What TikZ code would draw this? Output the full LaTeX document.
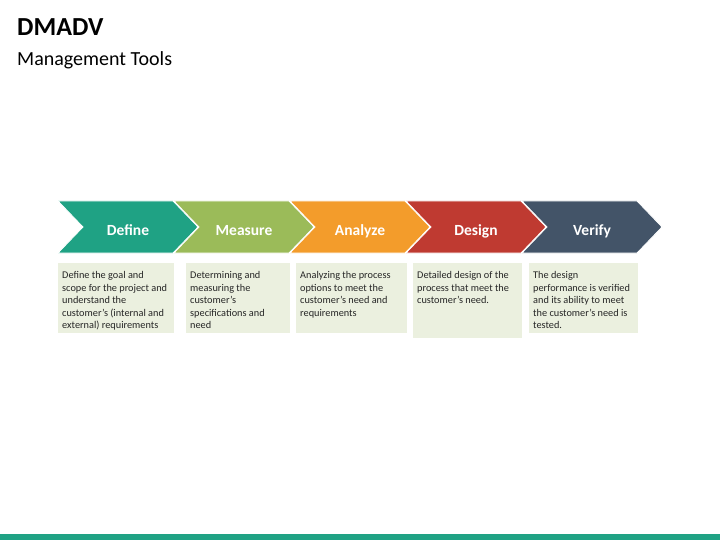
\documentclass[tikz,border=0pt]{standalone}
\usepackage{fontspec}
\setmainfont{Carlito}
\usetikzlibrary{shapes.symbols}

\definecolor{defineteal}{HTML}{1FA284}
\definecolor{measuregreen}{HTML}{9BBB59}
\definecolor{analyzeorange}{HTML}{F39C2B}
\definecolor{designred}{HTML}{BF3A31}
\definecolor{verifyslate}{HTML}{435468}
\definecolor{notefill}{HTML}{EBF0DF}
\definecolor{notetext}{HTML}{262626}

\tikzset{
  chevron/.style={signal, signal to=east, signal from=west,
    signal pointer angle=92.3, minimum width=140pt, minimum height=52pt,
    inner sep=0pt, outer sep=0pt, draw=white, line width=0.8pt,
    text=white, text height=17pt, text depth=0pt,
    font=\fontsize{15.5}{18}\selectfont\bfseries},
  notebox/.style={anchor=north west, inner sep=4pt,
    align=left, text=notetext, font=\fontsize{10.3}{12.5}\selectfont}
}

\begin{document}
\begin{tikzpicture}[x=1pt,y=-1pt]
                \useasboundingbox (0,0) rectangle (720,540);

                \node[anchor=base west, inner sep=0pt, font=\fontsize{26}{30}\selectfont\bfseries] (title) at (17,36) {DMADV};
                \node[anchor=base west, inner sep=0pt, font=\fontsize{20}{24}\selectfont] (subtitle) at (17,66) {Management Tools};

                \node[chevron, fill=verifyslate] (verify) at (592,227) {Verify};
                \node[chevron, fill=designred] (design) at (476,227) {Design};
                \node[chevron, fill=analyzeorange] (analyze) at (360,227) {Analyze};
                \node[chevron, fill=measuregreen] (measure) at (244,227) {Measure};
                \node[chevron, fill=defineteal] (define) at (128,227) {Define};

                % note backgrounds
                \fill[notefill] (58,263) rectangle (174,333);
                \fill[notefill] (186,263) rectangle (290,333);
                \fill[notefill] (296,263) rectangle (407,333);
                \fill[notefill] (413,263) rectangle (522,338);
                \fill[notefill] (529,263) rectangle (638,333);

                \node[notebox] (definenote) at (58,267.5)
                  {Define the goal and\\scope for the project and\\understand the\\customer’s (internal and\\external) requirements};
                \node[notebox] (measurenote) at (186,267.5)
                  {Determining and\\measuring the\\customer’s\\specifications and\\need};
                \node[notebox] (analyzenote) at (296,267.5)
                  {Analyzing the process\\options to meet the\\customer’s need and\\requirements};
                \node[notebox] (designnote) at (413,267.5)
                  {Detailed design of the\\process that meet the\\customer’s need.};
                \node[notebox] (verifynote) at (529,267.5)
                  {The design\\performance is verified\\and its ability to meet\\the customer’s need is\\tested.};

                \fill[defineteal] (0,534) rectangle (720,540);
            \end{tikzpicture}
\end{document}
